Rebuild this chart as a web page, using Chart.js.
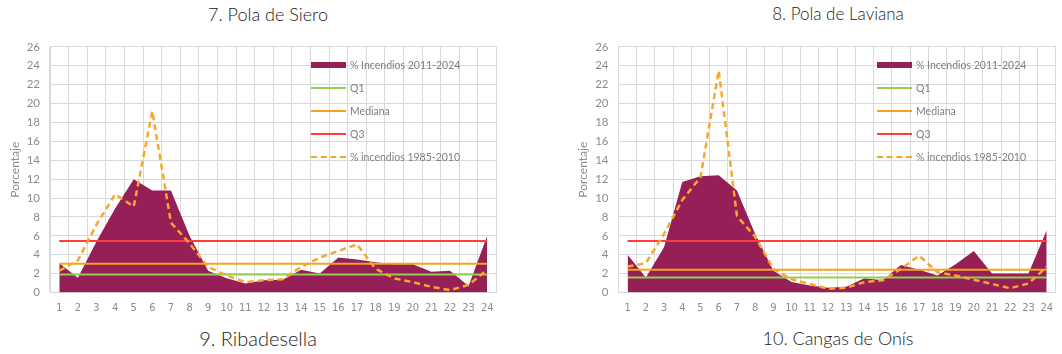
<!DOCTYPE html>
<html lang="es">
<head>
<meta charset="utf-8">
<title>Incendios por hora</title>
<script src="https://cdn.jsdelivr.net/npm/chart.js@4.4.1/dist/chart.umd.min.js"></script>
<style>
    body { margin: 0; background: #fff; width: 1062px; height: 354px; position: relative; overflow: hidden; }
    .titulo { position: absolute; font-family: Lato, "Open Sans", sans-serif; font-weight: 300; color: #222; white-space: nowrap; transform: translateX(-50%); }
    .caja { position: absolute; top: 30px; height: 285px; }
    .leyenda { position: absolute; top: 53px; font-family: Lato, sans-serif; font-size: 10.5px; color: #7f7f7f; }
    .leyenda .fila { height: 23px; display: flex; align-items: center; white-space: nowrap; }
    .leyenda .muestra { width: 35px; margin-right: 4px; }
</style>
</head>
<body>

<div class="titulo" style="left:268px; top:3px; font-size:18px;">7. Pola de Siero</div>
<div class="titulo" style="left:838px; top:3px; font-size:17px;">8. Pola de Laviana</div>

<div class="caja" style="left:0; width:512px;"><canvas id="chartSiero" width="512" height="285"></canvas></div>
<div class="caja" style="left:560px; width:502px;"><canvas id="chartLaviana" width="502" height="285"></canvas></div>

<div class="leyenda" id="leyendaSiero" style="left:311px;"></div>
<div class="leyenda" id="leyendaLaviana" style="left:877px;"></div>

<div class="titulo" style="left:258px; top:326px; font-size:20px;">9. Ribadesella</div>
<div class="titulo" style="left:838px; top:327px; font-size:18px;">10. Cangas de Onís</div>

<script>
// Horas del día (eje X)
const horas = ['1','2','3','4','5','6','7','8','9','10','11','12','13','14','15','16','17','18','19','20','21','22','23','24'];
const yTicks = [0, 26, 2]; // min, max, paso

// 7. Pola de Siero
const sieroActual = [3.1, 1.55, 5.4, 8.9, 12.0, 10.8, 10.8, 6.0, 2.3, 1.5, 0.95, 1.3, 1.35, 2.4, 2.0, 3.7, 3.5, 3.2, 3.0, 3.0, 2.2, 2.3, 0.7, 6.0];
const sieroHist = [2.3, 3.4, 7.2, 10.4, 9.1, 19.2, 7.4, 5.2, 2.7, 1.8, 1.1, 1.3, 1.4, 2.7, 3.7, 4.4, 5.1, 2.5, 1.5, 1.1, 0.6, 0.25, 0.8, 2.4];
const sieroCuartiles = [1.9, 3.05, 5.45]; // Q1, Mediana, Q3

// 8. Pola de Laviana
const lavianaActual = [4.0, 1.6, 4.8, 11.7, 12.3, 12.4, 10.8, 6.2, 2.3, 1.1, 0.75, 0.5, 0.6, 1.5, 1.3, 2.9, 2.4, 1.8, 3.0, 4.4, 2.0, 2.0, 2.0, 6.6];
const lavianaHist = [2.75, 3.1, 6.2, 9.8, 12.2, 23.5, 8.1, 5.9, 2.5, 1.4, 0.9, 0.4, 0.5, 1.1, 1.3, 2.5, 3.9, 2.15, 1.8, 1.35, 0.9, 0.45, 0.95, 2.7];
const lavianaCuartiles = [1.6, 2.4, 5.45];

const GRIS = '#8c8c8c';
const REJILLA = '#d9d9d9';

// Línea horizontal de punta a punta del eje (primera y última hora)
function lineaFija(valor) {
    return [{ x: horas[0], y: valor }, { x: horas[horas.length - 1], y: valor }];
}

function crearGrafico(idCanvas, idLeyenda, actual, hist, cuartiles, medidas) {
    const ctx = document.getElementById(idCanvas).getContext('2d');
    const datasets = [
        {
            label: '% Incendios 2011-2024',
            data: actual,
            backgroundColor: '#951f56',
            borderWidth: 0,
            fill: 'origin',
            pointRadius: 0,
            order: 4,
            tipo: 'area'
        },
        { label: 'Q1', data: lineaFija(cuartiles[0]), borderColor: '#92d050', borderWidth: 2, pointRadius: 0, fill: false, order: 3 },
        { label: 'Mediana', data: lineaFija(cuartiles[1]), borderColor: '#f7a21b', borderWidth: 2, pointRadius: 0, fill: false, order: 2 },
        { label: 'Q3', data: lineaFija(cuartiles[2]), borderColor: '#ff3b3b', borderWidth: 2, pointRadius: 0, fill: false, order: 1 },
        {
            label: '% incendios 1985-2010',
            data: hist,
            borderColor: '#f8a62c',
            borderWidth: 2.5,
            borderDash: [6, 4],
            pointRadius: 0,
            fill: false,
            order: 0
        }
    ];

    new Chart(ctx, {
        type: 'line',
        data: { labels: horas, datasets: datasets },
        options: {
            responsive: false,
            animation: false,
            devicePixelRatio: 1,
            layout: { padding: { top: 15, right: medidas.derecha, left: 0, bottom: 0 } },
            plugins: { legend: { display: false }, tooltip: { enabled: false } },
            scales: {
                x: {
                    type: 'category',
                    offset: true,
                    grid: { offset: true, color: REJILLA, drawTicks: false },
                    border: { color: REJILLA },
                    ticks: {
                        color: GRIS, padding: 9, autoSkip: false, maxRotation: 0,
                        font: { family: '"Liberation Sans Narrow", "DejaVu Sans Condensed", sans-serif', size: 11 }
                    },
                    afterFit: (scale) => { scale.height = 22.5; }
                },
                y: {
                    min: yTicks[0],
                    max: yTicks[1],
                    grid: { color: REJILLA, drawTicks: false },
                    border: { color: REJILLA },
                    ticks: { stepSize: yTicks[2], color: GRIS, padding: 10, font: { family: 'Lato, sans-serif', size: 11.5 } },
                    title: {
                        display: true,
                        text: 'Porcentaje',
                        color: GRIS,
                        padding: { top: medidas.tituloY, bottom: 0 },
                        font: { family: 'Lato, sans-serif', size: 12 }
                    },
                    afterFit: (scale) => { scale.width = medidas.ancho; }
                }
            }
        }
    });

    // Leyenda dentro del área de trazado
    let html = '';
    datasets.forEach(ds => {
        let muestra;
        if (ds.tipo === 'area') {
            muestra = `<div class="muestra" style="height:6px;background:${ds.backgroundColor}"></div>`;
        } else if (ds.borderDash) {
            muestra = `<div class="muestra" style="height:0;border-top:2px dashed ${ds.borderColor}"></div>`;
        } else {
            muestra = `<div class="muestra" style="height:2px;background:${ds.borderColor}"></div>`;
        }
        html += `<div class="fila">${muestra}<span>${ds.label}</span></div>`;
    });
    document.getElementById(idLeyenda).innerHTML = html;
}

crearGrafico('chartSiero', 'leyendaSiero', sieroActual, sieroHist, sieroCuartiles, { ancho: 50, derecha: 15.5, tituloY: 7.8 });
crearGrafico('chartLaviana', 'leyendaLaviana', lavianaActual, lavianaHist, lavianaCuartiles, { ancho: 58.5, derecha: 0.8, tituloY: 15.8 });
</script>
</body>
</html>
